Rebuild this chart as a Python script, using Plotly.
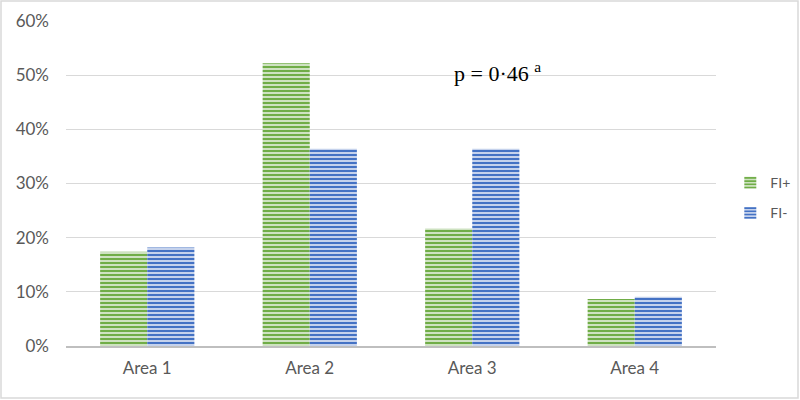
import plotly.graph_objects as go

areas = ["Area 1", "Area 2", "Area 3", "Area 4"]
fi_plus = [0.174, 0.522, 0.217, 0.087]
fi_minus = [0.182, 0.364, 0.364, 0.091]
y_ticks = [0, 0.1, 0.2, 0.3, 0.4, 0.5, 0.6]

green = "#70AD47"
blue = "#4472C4"


def stripe(color):
    return dict(shape="-", fgcolor=color, bgcolor="#D9E8CF" if color == green else "#D3DDF1",
                size=4, solidity=0.55, fillmode="replace")


fig = go.Figure()
fig.add_trace(go.Bar(x=areas, y=fi_plus, name="FI+", legendgroup="a",
                     marker=dict(color=green, pattern=stripe(green), line=dict(width=0))))
fig.add_trace(go.Bar(x=areas, y=fi_minus, name="FI-", legendgroup="b",
                     marker=dict(color=blue, pattern=stripe(blue), line=dict(width=0))))

ml, mr, mt, mb = 66, 84, 21, 54
pw, ph = 800 - ml - mr, 400 - mt - mb

fig.update_layout(
    width=800, height=400,
    margin=dict(l=ml, r=mr, t=mt, b=mb, autoexpand=False),
    paper_bgcolor="white", plot_bgcolor="white",
    barmode="group", bargap=0.42, bargroupgap=0,
    font=dict(family="Lato, Open Sans, sans-serif", size=17, color="#595959"),
    legend=dict(x=1.022, y=0.455, xanchor="left", yanchor="middle",
                font=dict(size=14, color="#595959"), traceorder="grouped",
                tracegroupgap=9, itemwidth=30),
    showlegend=True,
)
fig.update_yaxes(range=[0, 0.6], tickvals=y_ticks, tickformat=".0%",
                 showgrid=True, gridcolor="#D9D9D9", gridwidth=1,
                 zeroline=False, ticks="", ticklabelstandoff=16)
fig.update_xaxes(showline=True, linecolor="#BFBFBF", linewidth=2,
                 ticks="", tickfont=dict(size=17), ticklabelstandoff=6)

fig.add_annotation(text="p = 0·46 <sup>a</sup>", x=(497 - ml) / pw, y=(346 - 56) / ph,
                   xref="paper", yref="paper", showarrow=False,
                   font=dict(family="Liberation Serif, Times New Roman, serif", size=22, color="black"))

# outer chart border
fig.add_shape(type="rect", xref="paper", yref="paper",
              x0=(1 - ml) / pw, x1=(798 - ml) / pw,
              y0=(346 - 398) / ph, y1=(346 - 1) / ph,
              line=dict(color="#D9D9D9", width=1.5))

fig.write_html("out.html", config={"displayModeBar": False},
               post_script="document.body.style.margin='0';")
